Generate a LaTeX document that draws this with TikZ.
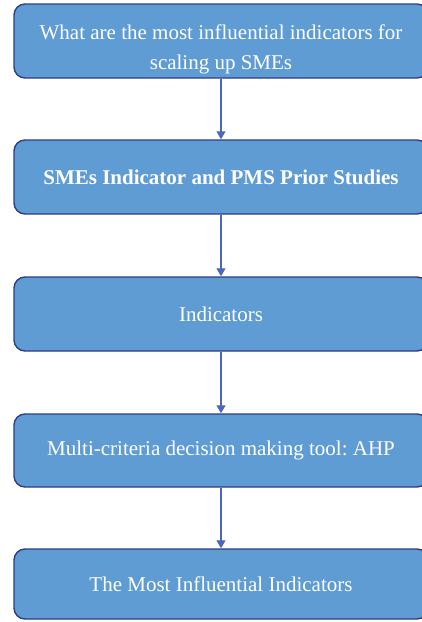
\documentclass[tikz,border=0pt]{standalone}
\usepackage{fontspec}
\setmainfont{Liberation Serif}
\usepackage{tikz}
\usetikzlibrary{arrows.meta}
\definecolor{boxblue}{HTML}{5F9CD3}
\definecolor{boxline}{HTML}{2E3C88}
\definecolor{arrowblue}{HTML}{4A68BC}
\frenchspacing
\tikzset{
  minimum width = 414pt,
  %----------------%
  %  Flow boxes    %
  %----------------%
  % Box for each step of the study
  box_stage/.style={
    rectangle,
    rounded corners=11pt,
    align=center,
    draw=boxline,
    line width=1.4pt,
    fill=boxblue,
    text=white,
    font=\fontsize{21}{30}\selectfont
  },
  %----------------%
  %     Arrows     %
  %----------------%
  arrow/.style={draw=arrowblue,line width=1.1pt,-{Triangle[length=8pt,width=9pt]}},
}

\begin{document}
\begin{tikzpicture}[x=1pt, y=-1pt]
    \useasboundingbox (0,0) rectangle (422,622);
    \clip (0,0) rectangle (422,622);

    %------------%
    %  Question  %
    %------------%
    \node (question) [box_stage, minimum height=74pt] at (221, 41) {\rule{0pt}{31pt}What are the most influential indicators for\\scaling up SMEs};

    %-----------------%
    %  Prior studies  %
    %-----------------%
    \node (studies) [box_stage, minimum height=74pt] at (221, 177) {\textbf{SMEs Indicator and PMS Prior Studies}};

    %--------------%
    %  Indicators  %
    %--------------%
    \node (indicators) [box_stage, minimum height=74pt] at (221, 314) {Indicators};

    %--------%
    %  AHP   %
    %--------%
    \node (ahp) [box_stage, minimum height=73pt] at (221, 450.5) {Multi-criteria decision making tool: AHP};

    %-----------%
    %  Result   %
    %-----------%
    \node (result) [box_stage, minimum height=70pt] at (221, 584) {The Most Influential Indicators};

    %----------%
    %  Arrows  %
    %----------%
    % Question --> Prior studies
    \draw [arrow] (question.south) -- (studies.north);
    % Prior studies --> Indicators
    \draw [arrow] (studies.south) -- (indicators.north);
    % Indicators --> AHP
    \draw [arrow] (indicators.south) -- (ahp.north);
    % AHP --> Result
    \draw [arrow] (ahp.south) -- (result.north);
\end{tikzpicture}
\end{document}
